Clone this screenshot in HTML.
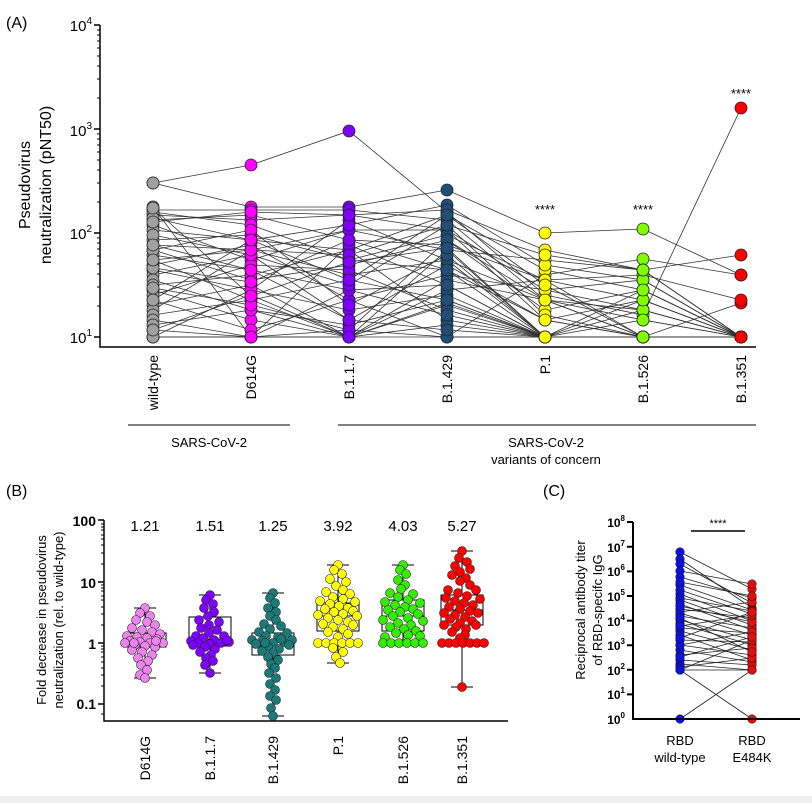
<!DOCTYPE html>
<html><head><meta charset="utf-8"><style>
html,body{margin:0;padding:0;background:#fff}
svg{display:block;font-family:"Liberation Sans",Arial,sans-serif}
</style></head><body>
<svg width="812" height="803" viewBox="0 0 812 803" xmlns="http://www.w3.org/2000/svg" xmlns:xlink="http://www.w3.org/1999/xlink">
<defs>
<marker id="m0" markerUnits="userSpaceOnUse" markerWidth="14" markerHeight="14" refX="7" refY="7" overflow="visible"><circle cx="7" cy="7" r="6" fill="#a0a0a0" stroke="#222" stroke-width="0.8"/></marker>
<marker id="m1" markerUnits="userSpaceOnUse" markerWidth="14" markerHeight="14" refX="7" refY="7" overflow="visible"><circle cx="7" cy="7" r="6" fill="#ff00ff" stroke="#222" stroke-width="0.8"/></marker>
<marker id="m2" markerUnits="userSpaceOnUse" markerWidth="14" markerHeight="14" refX="7" refY="7" overflow="visible"><circle cx="7" cy="7" r="6" fill="#7f00ff" stroke="#222" stroke-width="0.8"/></marker>
<marker id="m3" markerUnits="userSpaceOnUse" markerWidth="14" markerHeight="14" refX="7" refY="7" overflow="visible"><circle cx="7" cy="7" r="6" fill="#1f4e79" stroke="#222" stroke-width="0.8"/></marker>
<marker id="m4" markerUnits="userSpaceOnUse" markerWidth="14" markerHeight="14" refX="7" refY="7" overflow="visible"><circle cx="7" cy="7" r="6" fill="#ffff00" stroke="#222" stroke-width="0.8"/></marker>
<marker id="m5" markerUnits="userSpaceOnUse" markerWidth="14" markerHeight="14" refX="7" refY="7" overflow="visible"><circle cx="7" cy="7" r="6" fill="#80ff00" stroke="#222" stroke-width="0.8"/></marker>
<marker id="m6" markerUnits="userSpaceOnUse" markerWidth="14" markerHeight="14" refX="7" refY="7" overflow="visible"><circle cx="7" cy="7" r="6" fill="#ff0000" stroke="#222" stroke-width="0.8"/></marker>
<marker id="b0" markerUnits="userSpaceOnUse" markerWidth="10" markerHeight="10" refX="5" refY="5" overflow="visible"><circle cx="5" cy="5" r="4.5" fill="#ee82ee" stroke="#222" stroke-width="0.6"/></marker>
<marker id="b1" markerUnits="userSpaceOnUse" markerWidth="10" markerHeight="10" refX="5" refY="5" overflow="visible"><circle cx="5" cy="5" r="4.5" fill="#7f00ff" stroke="#222" stroke-width="0.6"/></marker>
<marker id="b2" markerUnits="userSpaceOnUse" markerWidth="10" markerHeight="10" refX="5" refY="5" overflow="visible"><circle cx="5" cy="5" r="4.5" fill="#1a7a7a" stroke="#222" stroke-width="0.6"/></marker>
<marker id="b3" markerUnits="userSpaceOnUse" markerWidth="10" markerHeight="10" refX="5" refY="5" overflow="visible"><circle cx="5" cy="5" r="4.5" fill="#ffff00" stroke="#222" stroke-width="0.6"/></marker>
<marker id="b4" markerUnits="userSpaceOnUse" markerWidth="10" markerHeight="10" refX="5" refY="5" overflow="visible"><circle cx="5" cy="5" r="4.5" fill="#33ee00" stroke="#222" stroke-width="0.6"/></marker>
<marker id="b5" markerUnits="userSpaceOnUse" markerWidth="10" markerHeight="10" refX="5" refY="5" overflow="visible"><circle cx="5" cy="5" r="4.5" fill="#ff0000" stroke="#222" stroke-width="0.6"/></marker>
<marker id="cb" markerUnits="userSpaceOnUse" markerWidth="10" markerHeight="10" refX="5" refY="5" overflow="visible"><circle cx="5" cy="5" r="4.3" fill="#1010e0" stroke="#111" stroke-width="0.5"/></marker>
<marker id="cr" markerUnits="userSpaceOnUse" markerWidth="10" markerHeight="10" refX="5" refY="5" overflow="visible"><circle cx="5" cy="5" r="4.3" fill="#e01010" stroke="#111" stroke-width="0.5"/></marker>
<clipPath id="k0"><rect x="145" y="0" width="16" height="400"/></clipPath>
<clipPath id="k1"><rect x="243" y="0" width="16" height="400"/></clipPath>
<clipPath id="k2"><rect x="341" y="0" width="16" height="400"/></clipPath>
<clipPath id="k3"><rect x="439" y="0" width="16" height="400"/></clipPath>
<clipPath id="k4"><rect x="537" y="0" width="16" height="400"/></clipPath>
<clipPath id="k5"><rect x="635" y="0" width="16" height="400"/></clipPath>
<clipPath id="k6"><rect x="733" y="0" width="16" height="400"/></clipPath>
<clipPath id="kc0"><rect x="672" y="500" width="16" height="240"/></clipPath>
<clipPath id="kc1"><rect x="744" y="500" width="16" height="240"/></clipPath>
<g id="L">
<polyline points="153,183 251,165 349,131 447,212 545,295 643,315 741,108"/>
<polyline points="153,183 251,207 349,207 447,190 545,233 643,229 741,275"/>
<polyline points="153,337 251,337 349,330 447,337 545,275 643,259 741,275"/>
<polyline points="153,207 251,337 349,337 447,303 545,337 643,337 741,303"/>
<polyline points="153,210 251,210 349,210 447,220 545,300 643,310 741,337"/>
<polyline points="153,215 251,220 349,215 447,230 545,320 643,337 741,337"/>
<polyline points="153,220 251,215 349,240 447,245 545,280 643,300 741,337"/>
<polyline points="153,225 251,260 349,230 447,250 545,337 643,337 741,337"/>
<polyline points="153,230 251,240 349,250 447,215 545,270 643,290 741,337"/>
<polyline points="153,240 251,235 349,260 447,270 545,337 643,320 741,337"/>
<polyline points="153,245 251,250 349,275 447,260 545,300 643,337 741,337"/>
<polyline points="153,250 251,280 349,265 447,240 545,310 643,290 741,337"/>
<polyline points="153,255 251,270 349,290 447,285 545,337 643,337 741,337"/>
<polyline points="153,260 251,300 349,280 447,300 545,337 643,337 741,337"/>
<polyline points="153,265 251,245 349,300 447,275 545,290 643,310 741,337"/>
<polyline points="153,270 251,290 349,310 447,295 545,337 643,337 741,337"/>
<polyline points="153,275 251,255 349,320 447,265 545,320 643,300 741,337"/>
<polyline points="153,280 251,310 349,337 447,305 545,337 643,337 741,337"/>
<polyline points="153,285 251,275 349,250 447,320 545,337 643,337 741,337"/>
<polyline points="153,290 251,320 349,337 447,290 545,280 643,337 741,337"/>
<polyline points="153,295 251,265 349,270 447,310 545,337 643,310 741,337"/>
<polyline points="153,300 251,330 349,300 447,337 545,337 643,337 741,337"/>
<polyline points="153,305 251,285 349,337 447,280 545,300 643,320 741,337"/>
<polyline points="153,310 251,250 349,230 447,230 545,290 643,280 741,337"/>
<polyline points="153,315 251,300 349,337 447,325 545,337 643,337 741,337"/>
<polyline points="153,320 251,337 349,290 447,315 545,337 643,337 741,337"/>
<polyline points="153,325 251,310 349,325 447,300 545,337 643,337 741,337"/>
<polyline points="153,330 251,295 349,337 447,250 545,260 643,270 741,337"/>
<polyline points="153,337 251,290 349,220 447,260 545,337 643,337 741,337"/>
<polyline points="153,337 251,337 349,245 447,285 545,337 643,337 741,337"/>
<polyline points="153,212 251,225 349,260 447,235 545,280 643,275 741,300"/>
<polyline points="153,218 251,240 349,225 447,205 545,265 643,280 741,337"/>
<polyline points="153,235 251,255 349,285 447,225 545,315 643,337 741,337"/>
<polyline points="153,250 251,230 349,305 447,255 545,337 643,337 741,337"/>
<polyline points="153,268 251,282 349,240 447,270 545,320 643,337 741,337"/>
<polyline points="153,288 251,305 349,330 447,240 545,300 643,337 741,337"/>
<polyline points="153,330 251,337 349,337 447,337 545,337 643,337 741,337"/>
<polyline points="153,222 251,212 349,215 447,210 545,250 643,270 741,337"/>
<polyline points="153,260 251,250 349,255 447,225 545,255 643,270 741,255"/>
<polyline points="153,245 251,270 349,320 447,330 545,337 643,300 741,337"/>
<polyline points="153,300 251,240 349,280 447,215 545,285 643,337 741,337"/>
<polyline points="153,208 251,296 349,262 447,248 545,337 643,290 741,337"/>
</g>
<g id="CL">
<polyline points="680,552 752,589"/><polyline points="680,559 752,608"/><polyline points="680,564 752,603"/>
<polyline points="680,571 752,584"/><polyline points="680,577 752,598"/><polyline points="680,585 752,610"/>
<polyline points="680,590 752,614"/><polyline points="680,594 752,621"/><polyline points="680,598 752,611"/>
<polyline points="680,600 752,625"/><polyline points="680,604 752,630"/><polyline points="680,609 752,618"/>
<polyline points="680,613 752,635"/><polyline points="680,616 752,628"/><polyline points="680,620 752,640"/>
<polyline points="680,624 752,645"/><polyline points="680,628 752,633"/><polyline points="680,631 752,650"/>
<polyline points="680,635 752,660"/><polyline points="680,640 752,642"/><polyline points="680,645 752,655"/>
<polyline points="680,650 752,662"/><polyline points="680,655 752,648"/><polyline points="680,660 752,665"/>
<polyline points="680,664 752,670"/><polyline points="680,667 752,658"/><polyline points="680,670 752,670"/>
<polyline points="680,670 752,640"/><polyline points="680,719 752,670"/><polyline points="680,670 752,719"/>
<polyline points="680,612 752,602"/><polyline points="680,606 752,622"/><polyline points="680,626 752,615"/>
<polyline points="680,645 752,632"/><polyline points="680,582 752,596"/><polyline points="680,638 752,612"/>
<polyline points="680,657 752,637"/><polyline points="680,618 752,652"/>
</g>
</defs>
<rect x="0" y="796" width="812" height="7" fill="#efefef"/>
<g font-size="16" fill="#000">
<text x="6" y="28">(A)</text>
<text x="6" y="496">(B)</text>
<text x="543" y="496">(C)</text>
</g>
<!-- Panel A -->
<use xlink:href="#L" href="#L" stroke="#333" stroke-width="0.8" fill="none"/>
<use xlink:href="#L" href="#L" stroke="none" fill="none" clip-path="url(#k0)" marker-start="url(#m0)" marker-mid="url(#m0)" marker-end="url(#m0)"/>
<use xlink:href="#L" href="#L" stroke="none" fill="none" clip-path="url(#k1)" marker-start="url(#m1)" marker-mid="url(#m1)" marker-end="url(#m1)"/>
<use xlink:href="#L" href="#L" stroke="none" fill="none" clip-path="url(#k2)" marker-start="url(#m2)" marker-mid="url(#m2)" marker-end="url(#m2)"/>
<use xlink:href="#L" href="#L" stroke="none" fill="none" clip-path="url(#k3)" marker-start="url(#m3)" marker-mid="url(#m3)" marker-end="url(#m3)"/>
<use xlink:href="#L" href="#L" stroke="none" fill="none" clip-path="url(#k4)" marker-start="url(#m4)" marker-mid="url(#m4)" marker-end="url(#m4)"/>
<use xlink:href="#L" href="#L" stroke="none" fill="none" clip-path="url(#k5)" marker-start="url(#m5)" marker-mid="url(#m5)" marker-end="url(#m5)"/>
<use xlink:href="#L" href="#L" stroke="none" fill="none" clip-path="url(#k6)" marker-start="url(#m6)" marker-mid="url(#m6)" marker-end="url(#m6)"/>
<g stroke="#000" stroke-width="1.5" fill="none">
<path d="M100,25 V347 H756"/>
<path d="M94,25H100 M94,129H100 M94,233H100 M94,337H100" />
<path stroke-width="1" d="M97,306H100 M97,287H100 M97,274H100 M97,264H100 M97,256H100 M97,249H100 M97,243H100 M97,238H100 M97,202H100 M97,183H100 M97,170H100 M97,160H100 M97,152H100 M97,145H100 M97,139H100 M97,134H100 M97,98H100 M97,79H100 M97,66H100 M97,56H100 M97,48H100 M97,41H100 M97,35H100 M97,30H100"/>
<path d="M128,380 H290 M338,380 H756" stroke-width="1" transform="translate(0,45)"/>
</g>
<g font-size="15" text-anchor="end">
<text x="92" y="31">10<tspan font-size="10" dy="-7">4</tspan></text>
<text x="92" y="136">10<tspan font-size="10" dy="-7">3</tspan></text>
<text x="92" y="239">10<tspan font-size="10" dy="-7">2</tspan></text>
<text x="92" y="343">10<tspan font-size="10" dy="-7">1</tspan></text>
</g>
<g font-size="16" text-anchor="middle">
<text transform="translate(30,185) rotate(-90)">Pseudovirus</text>
<text transform="translate(51,185) rotate(-90)">neutralization (pNT50)</text>
</g>
<g font-size="14" text-anchor="end">
<text transform="translate(158,355) rotate(-90)">wild-type</text>
<text transform="translate(256,355) rotate(-90)">D614G</text>
<text transform="translate(354,355) rotate(-90)">B.1.1.7</text>
<text transform="translate(452,355) rotate(-90)">B.1.429</text>
<text transform="translate(550,355) rotate(-90)">P.1</text>
<text transform="translate(648,355) rotate(-90)">B.1.526</text>
<text transform="translate(746,355) rotate(-90)">B.1.351</text>
</g>
<g font-size="13" text-anchor="middle">
<text x="209" y="447">SARS-CoV-2</text>
<text x="546" y="447">SARS-CoV-2</text>
<text x="546" y="464">variants of concern</text>
<text x="545" y="214">****</text>
<text x="643" y="214">****</text>
<text x="741" y="98">****</text>
</g>
<!-- Panel B -->
<g stroke="#000" stroke-width="1.5" fill="none"><path d="M104,520 V721 H508 M98,520H104 M98,582H104 M98,643H104 M98,704H104"/>
<path stroke-width="1" d="M101,704H104 M101,686H104 M101,675H104 M101,668H104 M101,662H104 M101,657H104 M101,652H104 M101,649H104 M101,646H104 M101,625H104 M101,614H104 M101,607H104 M101,600H104 M101,596H104 M101,591H104 M101,588H104 M101,585H104 M101,564H104 M101,553H104 M101,545H104 M101,539H104 M101,535H104 M101,530H104 M101,527H104 M101,524H104 M101,714H104"/></g>
<g stroke="#000" stroke-width="1" fill="#fff">
<path d="M145,608V678 M134,608H156 M134,678H156 M210,595V673 M199,595H221 M199,673H221 M273,593V716 M262,593H284 M262,716H284 M338,565V663 M327,565H349 M327,663H349 M403,565V643 M392,565H414 M462,551V687 M451,551H473 M451,687H473"/>
<rect x="124" y="633" width="42" height="14"/><path d="M124,640H166"/>
<rect x="189" y="617" width="42" height="29"/><path d="M189,639H231"/>
<rect x="252" y="633" width="42" height="22"/><path d="M252,646H294"/>
<rect x="317" y="603" width="42" height="28"/><path d="M317,616H359"/>
<rect x="382" y="600" width="42" height="31"/><path d="M382,616H424"/>
<rect x="441" y="595" width="42" height="30"/><path d="M441,610H483"/>
</g>
<g stroke="none" fill="none">
<polyline marker-start="url(#b0)" marker-mid="url(#b0)" marker-end="url(#b0)" points="145,608 140,613 150,616 136,620 147,622 155,625 132,628 142,630 152,632 160,634 127,636 137,637 147,638 157,639 130,641 140,642 150,643 163,643 125,643 135,645 145,646 155,647 132,650 142,652 152,655 138,658 148,661 141,665 147,670 140,675 145,678 134,643 156,641"/>
<polyline marker-start="url(#b1)" marker-mid="url(#b1)" marker-end="url(#b1)" points="210,595 206,600 213,604 204,608 214,612 208,616 199,620 219,622 209,625 201,628 217,630 209,633 196,636 224,636 203,638 214,640 191,641 229,642 198,643 221,643 210,644 205,647 215,649 200,652 211,655 206,658 213,661 205,665 210,673 227,640 193,645"/>
<polyline marker-start="url(#b2)" marker-mid="url(#b2)" marker-end="url(#b2)" points="273,593 270,598 275,603 268,608 276,612 270,616 276,620 264,624 281,626 270,629 259,632 287,633 266,636 278,637 252,640 292,640 262,641 284,642 273,643 256,644 289,645 268,647 279,649 262,651 273,653 268,657 278,660 271,664 275,668 269,673 276,678 270,684 275,690 270,696 276,700 271,708 273,716 265,643 281,639"/>
<polyline marker-start="url(#b3)" marker-mid="url(#b3)" marker-end="url(#b3)" points="338,565 334,570 342,574 330,579 346,582 336,586 343,590 326,592 350,594 333,597 343,599 320,601 355,602 330,604 339,606 348,608 325,609 353,611 334,612 343,614 318,615 357,616 328,618 338,620 348,622 323,624 353,625 333,627 343,629 328,632 348,634 338,637 318,643 326,643 334,643 342,643 350,643 358,643 333,648 343,652 336,657 340,663"/>
<polyline marker-start="url(#b4)" marker-mid="url(#b4)" marker-end="url(#b4)" points="403,565 400,570 406,574 398,580 405,585 401,589 390,593 413,594 398,597 408,600 385,602 420,603 395,605 405,607 413,609 388,610 400,612 418,614 393,616 408,618 383,620 423,621 398,623 411,625 390,627 404,629 416,631 396,633 408,635 385,637 420,636 383,643 391,643 399,643 407,643 415,643 423,643"/>
<polyline marker-start="url(#b5)" marker-mid="url(#b5)" marker-end="url(#b5)" points="462,551 459,558 467,562 455,566 470,569 460,572 452,575 466,578 460,581 470,585 448,590 476,590 458,593 467,596 446,598 480,599 455,601 464,603 473,605 449,607 460,609 470,611 444,613 478,613 455,615 465,617 450,619 472,621 460,623 444,625 476,625 456,627 466,629 452,632 465,635 460,638 442,643 449,643 456,643 463,643 470,643 477,643 484,643 462,687"/>
</g>
<g font-size="14" font-weight="bold" text-anchor="end">
<text x="96" y="526">100</text><text x="96" y="588">10</text><text x="96" y="649">1</text><text x="96" y="709">0.1</text>
</g>
<g font-size="15" text-anchor="middle">
<text x="145" y="531">1.21</text><text x="210" y="531">1.51</text><text x="273" y="531">1.25</text>
<text x="338" y="531">3.92</text><text x="403" y="531">4.03</text><text x="462" y="531">5.27</text>
</g>
<g font-size="13" text-anchor="middle">
<text transform="translate(46,620) rotate(-90)">Fold decrease in pseudovirus</text>
<text transform="translate(63,620) rotate(-90)">neutralization (rel. to wild-type)</text>
</g>
<g font-size="14" text-anchor="end">
<text transform="translate(150,736) rotate(-90)">D614G</text>
<text transform="translate(215,736) rotate(-90)">B.1.1.7</text>
<text transform="translate(278,736) rotate(-90)">B.1.429</text>
<text transform="translate(343,736) rotate(-90)">P.1</text>
<text transform="translate(408,736) rotate(-90)">B.1.526</text>
<text transform="translate(467,736) rotate(-90)">B.1.351</text>
</g>
<!-- Panel C -->
<use xlink:href="#CL" href="#CL" stroke="#222" stroke-width="0.8" fill="none"/>
<use xlink:href="#CL" href="#CL" stroke="none" fill="none" clip-path="url(#kc0)" marker-start="url(#cb)" marker-end="url(#cb)"/>
<use xlink:href="#CL" href="#CL" stroke="none" fill="none" clip-path="url(#kc1)" marker-start="url(#cr)" marker-end="url(#cr)"/>
<g stroke="#000" stroke-width="2" fill="none"><path d="M633,522 V719 H800 M627,522H633 M627,546.8H633 M627,571.4H633 M627,596H633 M627,620.6H633 M627,645.2H633 M627,669.8H633 M627,694.4H633"/><path d="M691,531 H745" stroke-width="1.5"/></g>
<g font-size="12" font-weight="bold" text-anchor="end">
<text x="625" y="724">10<tspan font-size="8" dy="-6">0</tspan></text>
<text x="625" y="699">10<tspan font-size="8" dy="-6">1</tspan></text>
<text x="625" y="675">10<tspan font-size="8" dy="-6">2</tspan></text>
<text x="625" y="650">10<tspan font-size="8" dy="-6">3</tspan></text>
<text x="625" y="626">10<tspan font-size="8" dy="-6">4</tspan></text>
<text x="625" y="601">10<tspan font-size="8" dy="-6">5</tspan></text>
<text x="625" y="576">10<tspan font-size="8" dy="-6">6</tspan></text>
<text x="625" y="552">10<tspan font-size="8" dy="-6">7</tspan></text>
<text x="625" y="527">10<tspan font-size="8" dy="-6">8</tspan></text>
</g>
<text x="718" y="527" font-size="11" text-anchor="middle">****</text>
<g font-size="13" text-anchor="middle">
<text transform="translate(585,610) rotate(-90)">Reciprocal antibody titer</text>
<text transform="translate(602,610) rotate(-90)">of RBD-specifc IgG</text>
<text x="680" y="745">RBD</text><text x="680" y="762">wild-type</text>
<text x="752" y="745">RBD</text><text x="752" y="762">E484K</text>
</g>
</svg>
</body></html>
